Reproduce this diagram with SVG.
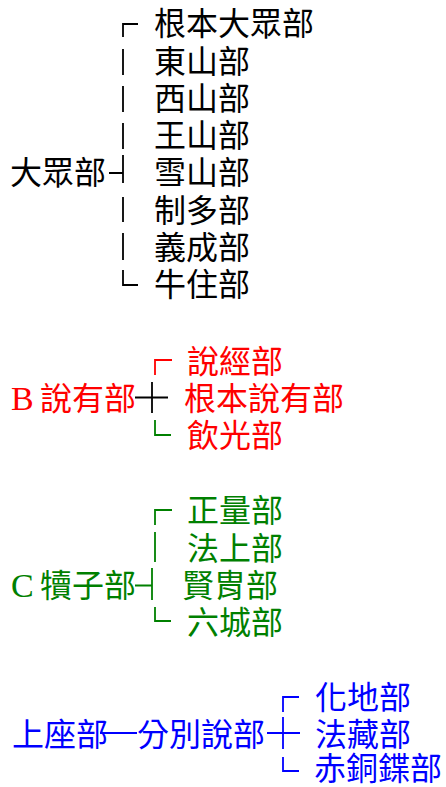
<svg xmlns="http://www.w3.org/2000/svg" width="446" height="787" viewBox="0 0 446 787">
<style>
text{font-family:"Liberation Serif","Noto Sans CJK TC",serif;font-size:32px}
.lat{font-size:34px}
.k{fill:#000}.r{fill:#ff0000}.g{fill:#008000}.b{fill:#0000ff}
.c{fill:none;stroke-width:1.8}
.ck{stroke:#000}.cr{stroke:#ff0000}.cg{stroke:#008000}.cb{stroke:#0000ff}
</style>
<rect width="446" height="787" fill="#fff"/>
<g id="connectors">
<path class="c ck" d="M138,24H123V37M123,49V75M123,86V112M123,123V149M123,155V183M109,173H123M123,197V222M123,233V260M123,270V285H138"/>
<path class="c cr" d="M172,360H155V375"/>
<path class="c ck" d="M135,397.5H168M152,382V413"/>
<path class="c cg" d="M155,420V435H171"/>
<path class="c cg" d="M172,510H155V525M155,532V562M152,568V600M135,585.5H152M155,607V621H171"/>
<path class="c cb" d="M100,733H137M299,697H283V712M267,733H300M283,717V749M283,757V771H299"/>
</g>
<g id="mahasanghika">
<text class="k" x="10" y="184">大眾部</text>
<text class="k" x="154" y="35">根本大眾部</text>
<text class="k" x="154" y="72.5">東山部</text>
<text class="k" x="154" y="110">西山部</text>
<text class="k" x="154" y="147">王山部</text>
<text class="k" x="154" y="184">雪山部</text>
<text class="k" x="154" y="221.5">制多部</text>
<text class="k" x="154" y="259">義成部</text>
<text class="k" x="154" y="296">牛住部</text>
</g>
<g id="sarvastivada">
<text class="r" x="11" y="410"><tspan class="lat">B</tspan> <tspan x="40">說有部</tspan></text>
<text class="r" x="187" y="373">說經部</text>
<text class="r" x="184" y="410">根本說有部</text>
<text class="r" x="187" y="447">飲光部</text>
</g>
<g id="vatsiputriya">
<text class="g" x="11" y="597"><tspan class="lat">C</tspan> <tspan x="40">犢子部</tspan></text>
<text class="g" x="187" y="522">正量部</text>
<text class="g" x="187" y="560">法上部</text>
<text class="g" x="182" y="597">賢胄部</text>
<text class="g" x="187" y="634">六城部</text>
</g>
<g id="sthavira">
<text class="b" x="12" y="746">上座部</text>
<text class="b" x="137" y="746">分別說部</text>
<text class="b" x="315" y="709">化地部</text>
<text class="b" x="315" y="746">法藏部</text>
<text class="b" x="314" y="780">赤銅鍱部</text>
</g>
</svg>
